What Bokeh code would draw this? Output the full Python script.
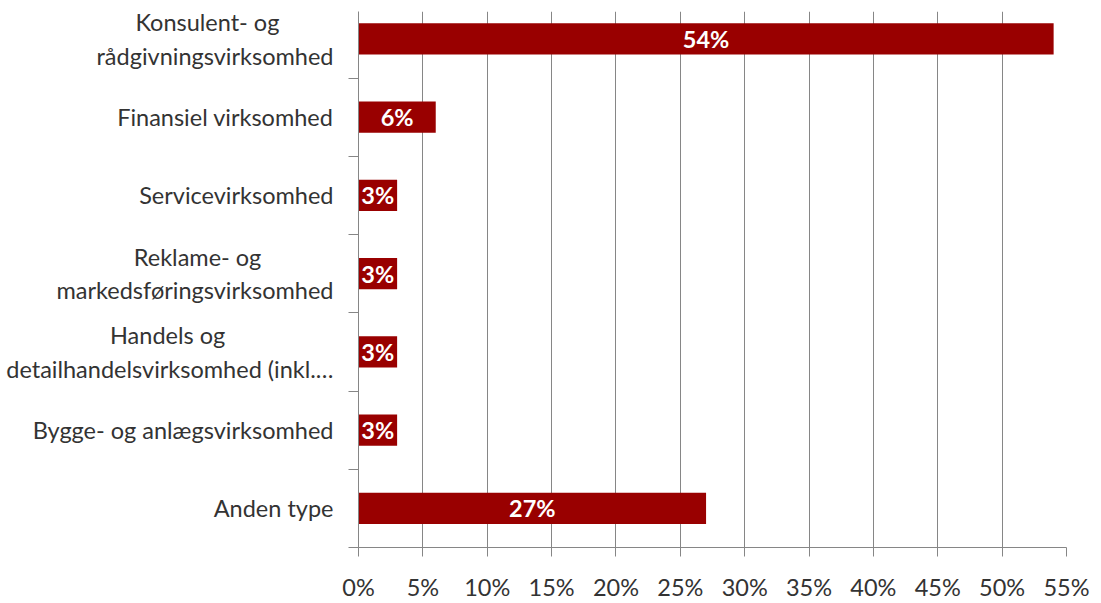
from bokeh.plotting import figure
from bokeh.models import Range1d, FixedTicker, ColumnDataSource
from bokeh.embed import file_html
from bokeh.resources import INLINE
from bokeh.core.properties import value

NB = "\u00a0"
categories = [
    "Konsulent- og" + NB * 9 + "\nrådgivningsvirksomhed",
    "Finansiel virksomhed",
    "Servicevirksomhed",
    "Reklame- og" + NB * 12 + "\nmarkedsføringsvirksomhed",
    "Handels og" + NB * 18 + "\ndetailhandelsvirksomhed (inkl.…",
    "Bygge- og anlægsvirksomhed",
    "Anden type",
]
values = [54, 6, 3, 3, 3, 3, 27]
x_ticks = [0, 5, 10, 15, 20, 25, 30, 35, 40, 45, 50, 55]

n = len(categories)
ypos = [n - 1 - i for i in range(n)]
src = ColumnDataSource(dict(
    y=ypos, v=values, mid=[v / 2 for v in values],
    lab=[f"{v}%" for v in values],
))

FONT = "Lato"
FS = "23.5px"
TXT = "#333333"
GRID = "#868686"
p = figure(width=1093, height=603, output_backend="svg", toolbar_location=None,
           x_range=Range1d(0, 55), y_range=Range1d(-0.5, n - 0.65),
           min_border_left=358, min_border_right=27, min_border_top=11, min_border_bottom=54)
p.outline_line_color = None
p.background_fill_color = "white"

p.hbar(y="y", right="v", left=0, height=0.4, source=src, fill_color="#990000", line_color=None)
p.text(x="mid", y="y", text="lab", source=src, text_color="white", text_font=value(FONT),
       text_font_style="bold", text_font_size=FS, text_align="center", text_baseline="middle")

# x axis
p.xaxis.ticker = FixedTicker(ticks=x_ticks)
p.xaxis.major_label_overrides = {t: f"{t}%" for t in x_ticks}
p.xaxis.axis_line_color = GRID
p.xaxis.major_tick_line_color = GRID
p.xaxis.major_tick_out = 9
p.xaxis.major_tick_in = 0
p.xaxis.minor_tick_line_color = None
p.xaxis.major_label_standoff = 16
p.xaxis.major_label_text_font = FONT
p.xaxis.major_label_text_font_size = FS
p.xaxis.major_label_text_color = TXT

# y axis
p.yaxis.ticker = FixedTicker(ticks=ypos, minor_ticks=[k + 0.5 for k in range(-1, n)])
p.yaxis.major_label_overrides = {y: c for y, c in zip(ypos, categories)}
p.yaxis.axis_line_color = GRID
p.yaxis.major_tick_line_color = None
p.yaxis.minor_tick_line_color = GRID
p.yaxis.minor_tick_out = 10
p.yaxis.minor_tick_in = 0
p.yaxis.major_label_standoff = 15
p.yaxis.major_label_text_font = FONT
p.yaxis.major_label_text_font_size = FS
p.yaxis.major_label_text_color = TXT

p.xgrid.ticker = FixedTicker(ticks=x_ticks)
p.xgrid.grid_line_color = GRID
p.ygrid.grid_line_color = None

open("out.html", "w").write(file_html(p, INLINE))
